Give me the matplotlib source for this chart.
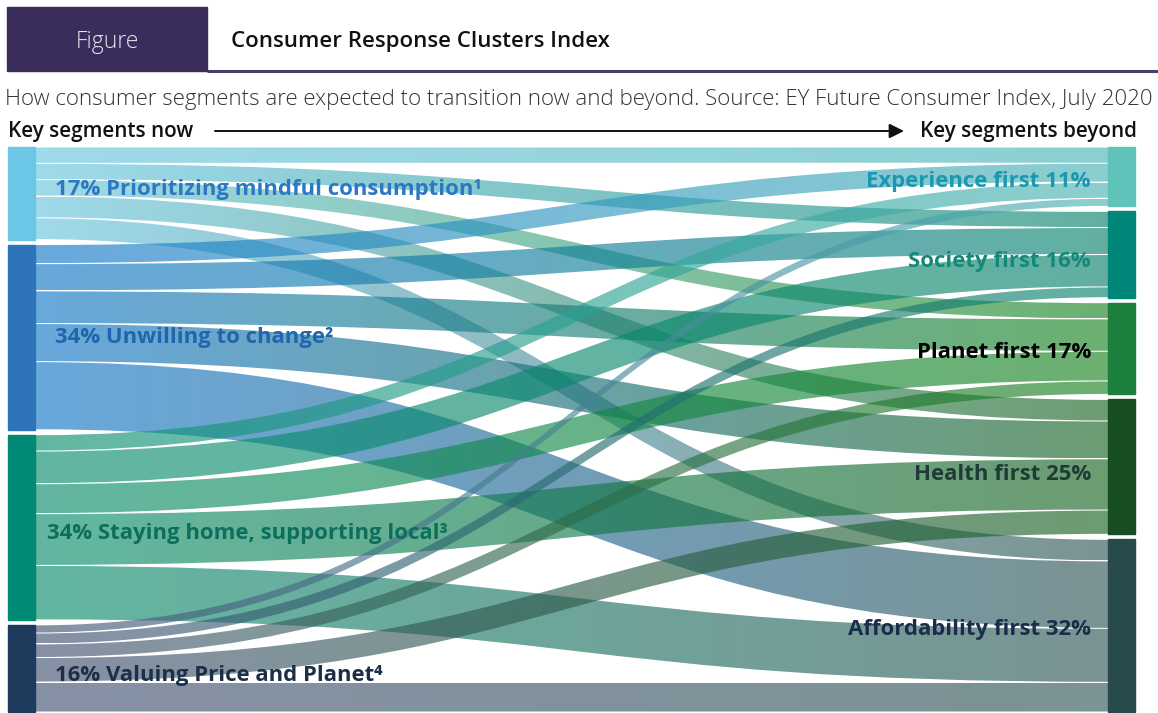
import numpy as np
import matplotlib
matplotlib.use('Agg')
import matplotlib.pyplot as plt
from matplotlib.path import Path
from matplotlib.patches import PathPatch, Rectangle
from matplotlib.colors import to_rgb

# segments now (left) and beyond (right), shares in %
src_names = ['Prioritizing mindful consumption', 'Unwilling to change',
             'Staying home, supporting local', 'Valuing Price and Planet']
src_pct = [17, 34, 34, 16]
src_sup = ['\u00b9', '\u00b2', '\u00b3', '\u2074']
tgt_names = ['Experience first', 'Society first', 'Planet first',
             'Health first', 'Affordability first']
tgt_pct = [11, 16, 17, 25, 32]

# estimated transitions (rows: now, cols: beyond), in %
flows = [[3.0, 3.0, 3.0, 4.0, 4.0],
         [3.5, 5.0, 6.0, 7.0, 12.5],
         [3.0, 6.0, 5.5, 9.5, 10.0],
         [1.5, 2.0, 2.5, 4.5, 5.5]]

# colours
src_bar = ['#6cc7e6', '#2e74b8', '#008a76', '#1e3a5c']
tgt_bar = ['#5fc3ba', '#00877a', '#1c7f3e', '#174d23', '#284a4a']
src_flow = ['#9fdaeb', '#68a8dc', '#62b7a2', '#8791a6']
tgt_flow = ['#8ccfd0', '#62b0a2', '#6cb070', '#6c9c72', '#7a9393']
src_txt = ['#2d78c2', '#1f66ae', '#0b6f5c', '#1c2e48']
tgt_txt = ['#1998b0', '#13897a', '#000000', '#1f3b36', '#1b2d4a']

W, H = 1158, 713
y_top, y_bot = 147, 712
gap = 5
xl0, xl1 = 8, 35       # left bars
xr0, xr1 = 1108, 1135  # right bars
alpha = 0.64

fig = plt.figure(figsize=(W/100, H/100), dpi=100)
ax = fig.add_axes([0, 0, 1, 1])
ax.set_xlim(0, W)
ax.set_ylim(H, 0)
ax.axis('off')

def base(c):
    c = np.array(to_rgb(c))
    return np.clip((c - (1-alpha))/alpha, 0, 1)

# node positions
def stack(pcts):
    k = (y_bot - y_top - gap*(len(pcts)-1))/sum(pcts)
    pos, y = [], y_top
    for p in pcts:
        pos.append(y)
        y += p*k + gap
    return pos, k

src_y, ks = stack(src_pct)
tgt_y, kt = stack(tgt_pct)

# flow ends
src_off = list(src_y)
tgt_off = list(tgt_y)
ends = {}
for i in range(len(src_pct)):
    for j in range(len(tgt_pct)):
        ends[(i, j)] = (src_off[i], src_off[i] + flows[i][j]*ks,
                        tgt_off[j], tgt_off[j] + flows[i][j]*kt)
        src_off[i] += flows[i][j]*ks
        tgt_off[j] += flows[i][j]*kt

ngrad = 256
tt = np.linspace(0, 1, ngrad)
for i in range(len(src_pct)):
    for j in range(len(tgt_pct)):
        a0, a1, b0, b1 = ends[(i, j)]
        a0 += 0.5; a1 -= 0.5; b0 += 0.5; b1 -= 0.5
        xm = (xl1 + xr0)/2
        verts = [(xl1, a0), (xm, a0), (xm, b0), (xr0, b0),
                 (xr0, b1), (xm, b1), (xm, a1), (xl1, a1), (xl1, a0)]
        codes = [Path.MOVETO, Path.CURVE4, Path.CURVE4, Path.CURVE4,
                 Path.LINETO, Path.CURVE4, Path.CURVE4, Path.CURVE4,
                 Path.CLOSEPOLY]
        patch = PathPatch(Path(verts, codes), facecolor='none', edgecolor='none')
        ax.add_patch(patch)
        c0, c1 = base(src_flow[i]), base(tgt_flow[j])
        img = np.zeros((1, ngrad, 4))
        img[0, :, :3] = c0[None, :]*(1-tt[:, None]) + c1[None, :]*tt[:, None]
        img[0, :, 3] = alpha
        im = ax.imshow(img, extent=[xl1, xr0, max(a1, b1), min(a0, b0)],
                       aspect='auto', interpolation='bilinear', zorder=2)
        im.set_clip_path(patch)

ax.set_xlim(0, W)
ax.set_ylim(H, 0)

# node bars
for i, p in enumerate(src_pct):
    ax.add_patch(Rectangle((xl0, src_y[i]), xl1-xl0, p*ks, color=src_bar[i], zorder=3))
for j, p in enumerate(tgt_pct):
    ax.add_patch(Rectangle((xr0, tgt_y[j]), xr1-xr0, p*kt, color=tgt_bar[j], zorder=3))

fam = ['Open Sans', 'DejaVu Sans']
lab_x = [55, 55, 47, 55]
src_lab_y = [190, 337, 533, 676]
for i, p in enumerate(src_pct):
    ax.text(lab_x[i], src_lab_y[i], f'{p}% {src_names[i]}{src_sup[i]}', color=src_txt[i],
            fontsize=15.9, fontweight='bold', family=fam, va='center', ha='left', zorder=5)
tgt_lab_y = [182, 261, 353, 475, 630]
for j, p in enumerate(tgt_pct):
    ax.text(1091, tgt_lab_y[j], f'{tgt_names[j]} {p}%', color=tgt_txt[j],
            fontsize=15.9, fontweight='bold', family=fam, va='center', ha='right', zorder=5)

# header
ax.add_patch(Rectangle((7, 7), 200, 64, color='#3b2d5b', zorder=3))
ax.text(107, 42, 'Figure', color='#e6e2ee', fontsize=16.5, family=fam,
        fontweight='light', ha='center', va='center')
ax.text(231, 41, 'Consumer Response Clusters Index', color='#111111', fontsize=16,
        family=fam, fontweight='semibold', ha='left', va='center')
ax.plot([207, 1158], [71, 71], color='#4b3c6b', lw=2.2, solid_capstyle='butt')
ax.text(5, 99, 'How consumer segments are expected to transition now and beyond. '
        'Source: EY Future Consumer Index, July 2020', color='#333333', fontsize=16,
        family=fam, fontweight='light', ha='left', va='center')
ax.text(8, 132, 'Key segments now', color='#111111', fontsize=14.9, family=fam,
        fontweight='semibold', ha='left', va='center')
ax.text(1137, 132, 'Key segments beyond', color='#111111', fontsize=14.9, family=fam,
        fontweight='semibold', ha='right', va='center')
ax.annotate('', xy=(904, 131), xytext=(215, 131),
            arrowprops=dict(arrowstyle='-|>', color='#111111', lw=1.4,
                            mutation_scale=22, shrinkA=0, shrinkB=0))

fig.savefig('out.png', dpi=100)
